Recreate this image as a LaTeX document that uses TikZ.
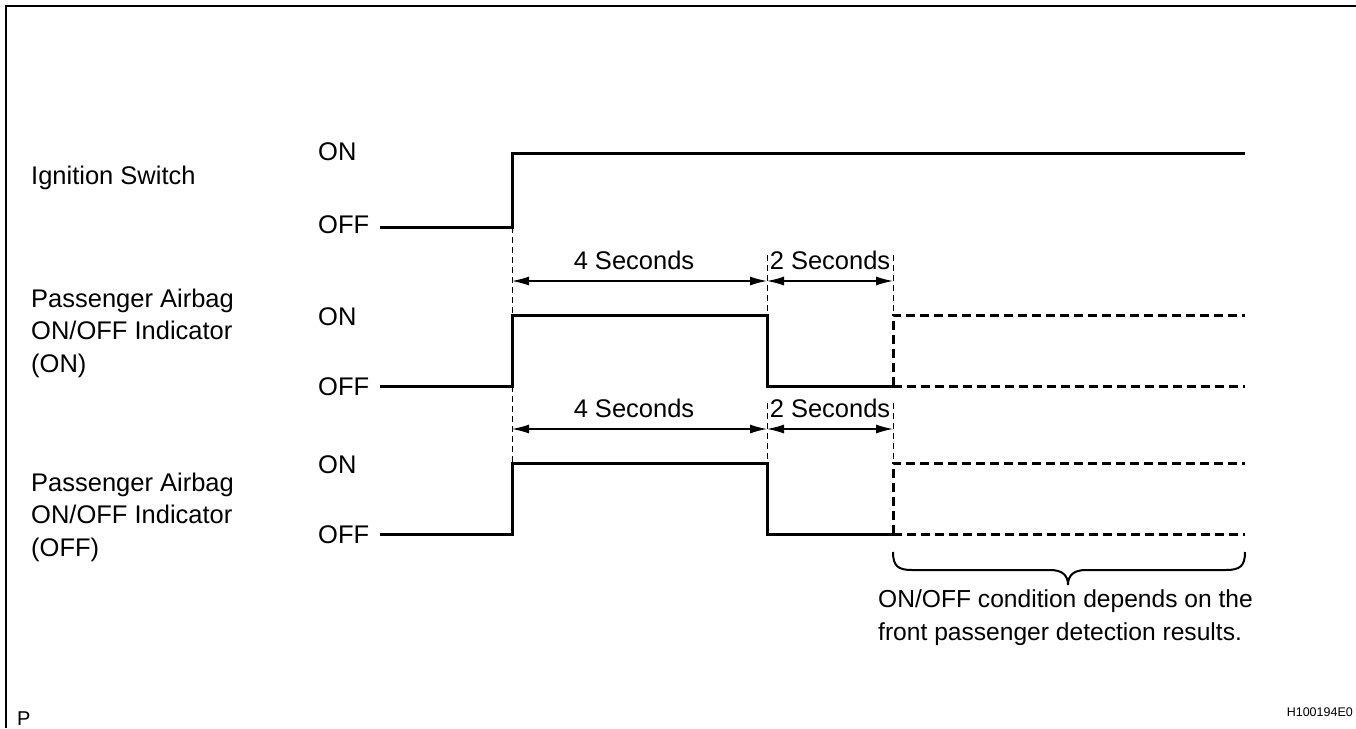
\documentclass[tikz,border=0pt]{standalone}
\usepackage{fontspec}
\setmainfont{Liberation Sans}
\usetikzlibrary{arrows.meta}
\begin{document}
\begin{tikzpicture}[x=1pt,y=-1pt,
  sig/.style={line width=3pt, line join=miter},
  sigdash/.style={line width=3pt, dash pattern=on 9pt off 5pt},
  guide/.style={line width=1pt, dash pattern=on 6pt off 4pt},
  dim/.style={line width=1.3pt, {Latex[length=17pt,width=9pt]}-{Latex[length=17pt,width=9pt]}},
  lbl/.style={inner sep=0pt, anchor=base west, font=\fontsize{25.5}{32.5}\selectfont, align=left},
  seclbl/.style={inner sep=0pt, anchor=base, font=\fontsize{25.5}{32.5}\selectfont},
  bracestyle/.style={line width=2pt}]
\useasboundingbox (0,0) rectangle (1356,728);
\draw[line width=2.5pt] (6,728) -- (6,6) -- (1356,6);

% labels (base anchor = baseline of last line)
\node[lbl] (ign) at (31,184) {Ignition Switch};
\node[lbl] (pa1) at (31,372) {Passenger Airbag\\ON/OFF Indicator\\(ON)};
\node[lbl] (pa2) at (31,556) {Passenger Airbag\\ON/OFF Indicator\\(OFF)};
\node[lbl] (on1) at (318,160) {ON};
\node[lbl] (off1) at (318,233) {OFF};
\node[lbl] (on2) at (318,325) {ON};
\node[lbl] (off2) at (318,395) {OFF};
\node[lbl] (on3) at (318,473) {ON};
\node[lbl] (off3) at (318,543) {OFF};

% ignition
\coordinate (i0) at (380,227);
\coordinate (i1) at (512,227);
\coordinate (i2) at (512,153);
\coordinate (i3) at (1245,153);
\draw[sig] (i0) -- (i1) -- (i2) -- (i3);

% row 2
\coordinate (a0) at (380,386);
\coordinate (a1) at (512,386);
\coordinate (a2) at (512,315);
\coordinate (a3) at (767,315);
\coordinate (a4) at (767,386);
\coordinate (a5) at (893,386);
\coordinate (a6) at (893,315);
\coordinate (a7) at (1245,315);
\coordinate (a8) at (1245,386);
\draw[sig] (a0) -- (a1) -- (a2) -- (a3) -- (a4) -- (a5);
\draw[sigdash] (a5) -- (a8);
\draw[sigdash] (a5) -- (a6) -- (a7);

% row 3
\coordinate (b0) at (380,534);
\coordinate (b1) at (512,534);
\coordinate (b2) at (512,463);
\coordinate (b3) at (767,463);
\coordinate (b4) at (767,534);
\coordinate (b5) at (893,534);
\coordinate (b6) at (893,463);
\coordinate (b7) at (1245,463);
\coordinate (b8) at (1245,534);
\draw[sig] (b0) -- (b1) -- (b2) -- (b3) -- (b4) -- (b5);
\draw[sigdash] (b5) -- (b8);
\draw[sigdash] (b5) -- (b6) -- (b7);

% guides
\coordinate (g1) at (767,255);
\coordinate (g2) at (893,255);
\coordinate (g3) at (767,403);
\coordinate (g4) at (893,403);
\draw[guide] (i1) -- (a2);
\draw[guide] (g1) -- (a3);
\draw[guide] (g2) -- (a6);
\draw[guide] (a1) -- (b2);
\draw[guide] (g3) -- (b3);
\draw[guide] (g4) -- (b6);

% dimension arrows
\coordinate (d1) at (512,281);
\coordinate (d2) at (767,281);
\coordinate (d3) at (893,281);
\coordinate (e1) at (512,429);
\coordinate (e2) at (767,429);
\coordinate (e3) at (893,429);
\draw[dim] (d1) -- (d2);
\draw[dim] (d2) -- (d3);
\draw[dim] (e1) -- (e2);
\draw[dim] (e2) -- (e3);
\node[seclbl] (s4a) at (634,269) {4 Seconds};
\node[seclbl] (s2a) at (830,269) {2 Seconds};
\node[seclbl] (s4b) at (634,417) {4 Seconds};
\node[seclbl] (s2b) at (830,417) {2 Seconds};

% brace
\coordinate (br0) at (893,552);
\coordinate (br1) at (1245,552);
\coordinate (brt) at (1068,585);
\draw[bracestyle] (br0) .. controls (893,566) and (898,570) .. (912,570)
  -- (1050,570) .. controls (1062,570) and (1068,575) .. (brt)
  .. controls (1068,575) and (1074,570) .. (1086,570)
  -- (1226,570) .. controls (1240,570) and (1245,566) .. (br1);
\node[lbl, font=\fontsize{24.6}{32.5}\selectfont] (note) at (878,640) {ON/OFF condition depends on the\\front passenger detection results.};

\node[inner sep=0pt, anchor=base west, font=\fontsize{20}{24}\selectfont] (pmark) at (17,725) {P};
\node[inner sep=0pt, anchor=base east, font=\fontsize{12.5}{15}\selectfont] (code) at (1353,716) {H100194E0};
\end{tikzpicture}
\end{document}
